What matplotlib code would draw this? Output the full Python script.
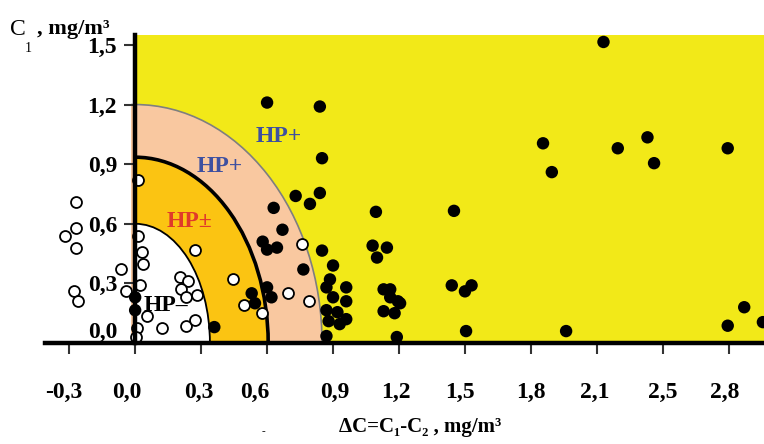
import matplotlib
matplotlib.use("Agg")
import matplotlib.pyplot as plt
from matplotlib.patches import Ellipse, Rectangle
from matplotlib.transforms import ScaledTranslation

# open circles (HP- group)
open_x = [-0.27, -0.27, -0.32, -0.27, -0.064, -0.041, -0.28, -0.26,
          0.015, 0.015, 0.03, 0.036, 0.02, 0.055, 0.01, 0.005,
          0.27, 0.205, 0.24, 0.21, 0.23, 0.28, 0.12, 0.23, 0.27,
          0.445, 0.495, 0.577, 0.76, 0.695, 0.79]
open_y = [0.71, 0.58, 0.54, 0.48, 0.37, 0.26, 0.26, 0.21,
          0.82, 0.54, 0.46, 0.40, 0.29, 0.135, 0.075, 0.03,
          0.47, 0.33, 0.31, 0.27, 0.23, 0.24, 0.075, 0.085, 0.115,
          0.32, 0.19, 0.15, 0.50, 0.25, 0.21]

# filled circles
filled_x = [0.0, 0.0, 0.36, 0.53, 0.545, 0.60, 0.62, 0.58, 0.60, 0.645,
            0.63, 0.67, 0.73, 0.795, 0.765, 0.84, 0.85,
            0.60, 0.84, 0.85, 0.90, 0.886, 0.87, 0.96, 0.90, 0.96,
            0.87, 0.92, 0.88, 0.93, 0.96, 0.87,
            1.095, 1.08, 1.145, 1.10, 1.13, 1.16, 1.16, 1.195, 1.13, 1.18,
            1.19, 1.205,
            1.45, 1.44, 1.50, 1.53, 1.505,
            1.855, 1.895, 1.96, 2.13, 2.195, 2.33, 2.36,
            2.695, 2.695, 2.77, 2.855]
filled_y = [0.23, 0.165, 0.08, 0.25, 0.20, 0.28, 0.23, 0.51, 0.47, 0.48,
            0.68, 0.57, 0.74, 0.70, 0.37, 0.755, 0.465,
            1.21, 1.19, 0.93, 0.39, 0.32, 0.28, 0.28, 0.23, 0.21,
            0.165, 0.155, 0.11, 0.095, 0.12, 0.035,
            0.66, 0.49, 0.48, 0.43, 0.27, 0.27, 0.23, 0.21, 0.16, 0.15,
            0.03, 0.20,
            0.665, 0.29, 0.26, 0.29, 0.06,
            1.005, 0.86, 0.06, 1.515, 0.98, 1.035, 0.905,
            0.98, 0.087, 0.18, 0.105]

# zones: semi-axes in x and y
zone_rx = [0.85, 0.605, 0.34]
zone_ry = [1.2, 0.935, 0.6]
zone_fc = ["#F9C8A0", "#FBC412", "white"]
zone_ec = ["#7f7f7f", "black", "black"]
zone_lw = [1.2, 2.6, 1.3]
zone_left = [-0.02, 0.0, 0.0]

xticks = [-0.3, 0.0, 0.3, 0.6, 0.9, 1.2, 1.5, 1.8, 2.1, 2.4, 2.7]
xlabels = ["-0,3", "0,0", "0,3", "0,6", "0,9", "1,2", "1,5", "1,8", "2,1", "2,5", "2,8"]
xlabel_shift = [-5, -8, -2, -12, 2, -3, -5, 0, -2, 0, -4]  # px, as printed
yticks = [0.0, 0.3, 0.6, 0.9, 1.2, 1.5]
ylabels = ["0,0", "0,3", "0,6", "0,9", "1,2", "1,5"]

plt.rcParams["font.family"] = ["Liberation Serif", "DejaVu Serif"]
plt.rcParams["font.weight"] = "bold"

W, H = 764, 444
fig = plt.figure(figsize=(W / 100, H / 100), dpi=100)
ax = fig.add_axes([45 / W, 101 / H, 719 / W, 308 / H])
ax.set_xlim(-0.41, 2.86)
ax.set_ylim(0, 1.55)

yellow = Rectangle((0, 0), 2.86, 1.55, facecolor="#F2E918", edgecolor="none", zorder=0)
ax.add_patch(yellow)
for rx, ry, fc, ec, lw, x0 in zip(zone_rx, zone_ry, zone_fc, zone_ec, zone_lw, zone_left):
    clip = Rectangle((x0, 0), 2.86, 1.55, transform=ax.transData)
    e = Ellipse((0, 0), 2 * rx, 2 * ry, facecolor=fc, edgecolor=ec, lw=lw, zorder=1)
    ax.add_patch(e)
    e.set_clip_path(clip)

ax.scatter(open_x, open_y, s=62, facecolor="white", edgecolor="black", lw=1.3, zorder=3)
ax.scatter(filled_x, filled_y, s=80, facecolor="black", edgecolor="none", zorder=3)

ax.text(0.655, 1.037, "HP+", color="#3E50A0", fontsize=17, ha="center", va="center", zorder=4)
ax.text(0.386, 0.89, "HP+", color="#3E50A0", fontsize=17, ha="center", va="center", zorder=4)
ax.text(0.245, 0.61, "HP±", color="#E03A2A", fontsize=17, ha="center", va="center", zorder=4)
ax.text(0.141, 0.19, "HP–", color="black", fontsize=17, ha="center", va="center", zorder=4)

for side in ["top", "right"]:
    ax.spines[side].set_visible(False)
ax.spines["left"].set_position(("data", 0))
for side in ["left", "bottom"]:
    ax.spines[side].set_linewidth(3.2)
    ax.spines[side].set_zorder(5)

ax.set_xticks(xticks)
ax.set_xticklabels(xlabels)
ax.set_yticks(yticks)
ax.set_yticklabels(ylabels)
ax.tick_params(axis="x", direction="out", length=8, width=1.5, pad=20, labelsize=17, color="#333333")
ax.tick_params(axis="y", direction="out", length=8, width=1.5, pad=5, labelsize=17, color="#333333")
ax.get_yticklabels()[0].set_verticalalignment("bottom")
for lab, dx in zip(ax.get_xticklabels(), xlabel_shift):
    lab.set_transform(lab.get_transform() + ScaledTranslation(dx / 100, 0, fig.dpi_scale_trans))

fig.text(10 / W, 1 - 35 / H, "C", fontsize=17, fontweight="normal")
fig.text(25 / W, 1 - 52 / H, "1", fontsize=10, fontweight="normal")
fig.text(37 / W, 1 - 34 / H, ", mg/m³", fontsize=16)
fig.text(420 / W, 1 - 432 / H, "ΔC=C₁-C₂ , mg/m³", fontsize=15, ha="center")
fig.text(263 / W, 1 - 434 / H, "-", fontsize=8, fontweight="normal", ha="center")

fig.savefig("out.png", dpi=100)
